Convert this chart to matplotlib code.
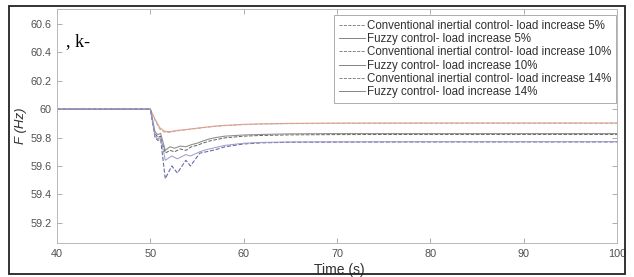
import matplotlib
matplotlib.use("Agg")
import matplotlib.pyplot as plt
from matplotlib.patches import Rectangle

plt.rcParams['font.family'] = ['Liberation Sans', 'DejaVu Sans']

# Time (s) and frequency (Hz)
t_5 = [40, 50, 50.5, 51, 51.5, 52, 52.5, 53, 54, 55, 56, 57, 58, 60, 62, 65, 70, 80, 100]
conv_5 = [60, 60, 59.92, 59.86, 59.838, 59.836, 59.842, 59.848, 59.856, 59.864, 59.872, 59.879, 59.884, 59.891, 59.895, 59.898, 59.90, 59.90, 59.90]
fuzzy_5 = [60, 60, 59.93, 59.87, 59.845, 59.842, 59.846, 59.851, 59.858, 59.866, 59.874, 59.881, 59.886, 59.893, 59.897, 59.900, 59.902, 59.903, 59.903]

t_10 = [40, 50, 50.5, 50.8, 51.1, 51.6, 52.1, 52.6, 53.2, 53.8, 54.4, 55, 55.6, 56.3, 57, 58, 60, 62, 65, 70, 80, 100]
conv_10 = [60, 60, 59.83, 59.80, 59.81, 59.69, 59.71, 59.70, 59.72, 59.71, 59.735, 59.745, 59.76, 59.775, 59.785, 59.798, 59.81, 59.815, 59.819, 59.821, 59.822, 59.822]
fuzzy_10 = [60, 60, 59.84, 59.82, 59.83, 59.71, 59.735, 59.725, 59.74, 59.735, 59.75, 59.76, 59.775, 59.79, 59.80, 59.81, 59.818, 59.822, 59.826, 59.828, 59.828, 59.828]

t_14 = [40, 50, 50.5, 50.8, 51.1, 51.6, 52.3, 52.9, 53.8, 54.3, 55.3, 56, 57, 58, 60, 62, 65, 70, 80, 100]
conv_14 = [60, 60, 59.80, 59.78, 59.79, 59.51, 59.60, 59.55, 59.64, 59.60, 59.69, 59.70, 59.715, 59.735, 59.755, 59.763, 59.767, 59.768, 59.769, 59.769]
fuzzy_14 = [60, 60, 59.81, 59.79, 59.80, 59.64, 59.67, 59.65, 59.68, 59.67, 59.70, 59.715, 59.73, 59.745, 59.76, 59.766, 59.769, 59.770, 59.771, 59.771]

labels = ["Conventional inertial control- load increase 5%",
          "Fuzzy control- load increase 5%",
          "Conventional inertial control- load increase 10%",
          "Fuzzy control- load increase 10%",
          "Conventional inertial control- load increase 14%",
          "Fuzzy control- load increase 14%"]

x_ticks = [40, 50, 60, 70, 80, 90, 100]
y_ticks = [59.2, 59.4, 59.6, 59.8, 60, 60.2, 60.4, 60.6]
y_tick_labels = ["59.2", "59.4", "59.6", "59.8", "60", "60.2", "60.4", "60.6"]

fig = plt.figure(figsize=(6.34, 2.77), dpi=100)
ax = fig.add_axes([57 / 634, 34 / 277, 560 / 634, 234 / 277])

ax.plot(t_5, conv_5, ls='--', color='#b0b0b0', lw=0.7, label=labels[0])
ax.plot(t_5, fuzzy_5, ls='-', color='#e0a090', lw=0.8, label=labels[1])
ax.plot(t_10, conv_10, ls='--', color='#606060', lw=0.7, label=labels[2])
ax.plot(t_10, fuzzy_10, ls='-', color='#909090', lw=0.8, label=labels[3])
ax.plot(t_14, conv_14, ls='--', color='#6a6aa8', lw=0.8, label=labels[4])
ax.plot(t_14, fuzzy_14, ls='-', color='#9a9ac8', lw=0.7, label=labels[5])

ax.set_xlim(40, 100)
ax.set_ylim(59.057, 60.706)
ax.set_xticks(x_ticks)
ax.set_xticklabels([str(v) for v in x_ticks])
ax.set_yticks(y_ticks)
ax.set_yticklabels(y_tick_labels)
ax.tick_params(direction='in', length=3.5, width=0.6, color='#a0a0a0',
               labelsize=7.8, labelcolor='#505050', top=True, right=True, pad=4)
for s in ax.spines.values():
    s.set_color('#b8b8b8')
    s.set_linewidth(0.7)

leg = ax.legend(loc='upper right', bbox_to_anchor=(616 / 634, 1 - 15 / 277),
                bbox_transform=fig.transFigure, borderaxespad=0, fontsize=8.3,
                handlelength=2.2, handletextpad=0.15, labelspacing=0.1,
                borderpad=0.45, fancybox=False, framealpha=1, edgecolor='#a0a0a0')
leg.get_frame().set_linewidth(0.6)
for h in leg.get_lines():
    h.set_color('#707070')
    h.set_linewidth(0.6)
for txt in leg.get_texts():
    txt.set_color('#303030')

fig.text(339 / 634, 3 / 277, "Time (s)", ha='center', va='baseline', fontsize=10, color='#303030')
fig.text(21 / 634, 1 - 126 / 277, "F (Hz)", ha='center', va='center', rotation=90,
         fontsize=9.5, style='italic', color='#303030')
fig.text(66 / 634, 1 - 46 / 277, ", k-", family='Liberation Serif', fontsize=13, color='black')

fig.patches.append(Rectangle((9 / 634, 3 / 277), 616 / 634, 268 / 277, transform=fig.transFigure,
                             fill=False, lw=1.3, ec='#222222', zorder=10))

fig.savefig("out.png", dpi=100)
